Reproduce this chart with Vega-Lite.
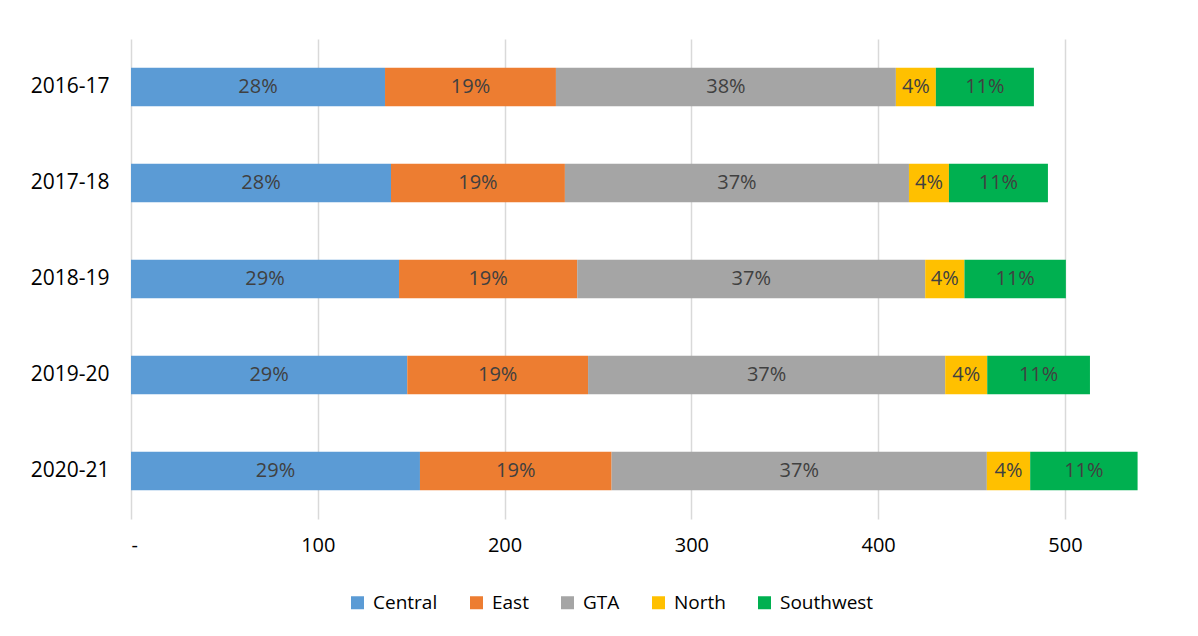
{
  "$schema": "https://vega.github.io/schema/vega-lite/v6.json",
  "width": 1046,
  "height": 480,
  "autosize": "none",
  "padding": {"left": 131, "top": 39, "right": 21, "bottom": 117},
  "background": "white",
  "config": {"view": {"stroke": null}, "font": "Open Sans"},
  "data": {
    "values": [
      {"year": "2016-17", "region": "Central", "value": 136.0, "pct": "28%"},
      {"year": "2016-17", "region": "East", "value": 91.5, "pct": "19%"},
      {"year": "2016-17", "region": "GTA", "value": 182.0, "pct": "38%"},
      {"year": "2016-17", "region": "North", "value": 21.4, "pct": "4%"},
      {"year": "2016-17", "region": "Southwest", "value": 52.5, "pct": "11%"},
      {"year": "2017-18", "region": "Central", "value": 139.2, "pct": "28%"},
      {"year": "2017-18", "region": "East", "value": 93.1, "pct": "19%"},
      {"year": "2017-18", "region": "GTA", "value": 184.2, "pct": "37%"},
      {"year": "2017-18", "region": "North", "value": 21.4, "pct": "4%"},
      {"year": "2017-18", "region": "Southwest", "value": 53.0, "pct": "11%"},
      {"year": "2018-19", "region": "Central", "value": 143.5, "pct": "29%"},
      {"year": "2018-19", "region": "East", "value": 95.4, "pct": "19%"},
      {"year": "2018-19", "region": "GTA", "value": 186.3, "pct": "37%"},
      {"year": "2018-19", "region": "North", "value": 21.0, "pct": "4%"},
      {"year": "2018-19", "region": "Southwest", "value": 54.3, "pct": "11%"},
      {"year": "2019-20", "region": "Central", "value": 147.9, "pct": "29%"},
      {"year": "2019-20", "region": "East", "value": 96.8, "pct": "19%"},
      {"year": "2019-20", "region": "GTA", "value": 191.2, "pct": "37%"},
      {"year": "2019-20", "region": "North", "value": 22.5, "pct": "4%"},
      {"year": "2019-20", "region": "Southwest", "value": 55.0, "pct": "11%"},
      {"year": "2020-21", "region": "Central", "value": 154.7, "pct": "29%"},
      {"year": "2020-21", "region": "East", "value": 102.6, "pct": "19%"},
      {"year": "2020-21", "region": "GTA", "value": 200.9, "pct": "37%"},
      {"year": "2020-21", "region": "North", "value": 23.2, "pct": "4%"},
      {"year": "2020-21", "region": "Southwest", "value": 57.5, "pct": "11%"}
    ]
  },
  "encoding": {
    "y": {
      "field": "year",
      "type": "nominal",
      "sort": null,
      "scale": {"paddingInner": 0.6, "paddingOuter": 0.3},
      "axis": {
        "title": null,
        "domain": false,
        "ticks": false,
        "grid": false,
        "labelFontSize": 21,
        "labelColor": "#000000",
        "labelPadding": 22
      }
    }
  },
  "layer": [
    {
      "mark": {"type": "bar"},
      "encoding": {
        "x": {
          "field": "value",
          "type": "quantitative",
          "stack": "zero",
          "scale": {"domain": [0, 560], "nice": false},
          "axis": {
            "title": null,
            "values": [0, 100, 200, 300, 400, 500],
            "grid": true,
            "gridColor": "#D9D9D9",
            "gridWidth": 1.5,
            "domain": false,
            "ticks": false,
            "labelFontSize": 20,
            "labelColor": "#000000",
            "labelPadding": 16,
            "labelExpr": "datum.value == 0 ? '-\u00a0\u00a0\u00a0' : datum.label"
          }
        },
        "color": {
          "field": "region",
          "type": "nominal",
          "scale": {
            "domain": ["Central", "East", "GTA", "North", "Southwest"],
            "range": ["#5B9BD5", "#ED7D31", "#A5A5A5", "#FFC000", "#00B050"]
          },
          "legend": {
            "title": null,
            "orient": "none",
            "legendX": 217,
            "legendY": 554,
            "direction": "horizontal",
            "symbolType": "square",
            "symbolSize": 169,
            "symbolStrokeWidth": 0,
            "labelFontSize": 19,
            "labelColor": "#000000",
            "labelOffset": 6,
            "columnPadding": 29
          }
        }
      }
    },
    {
      "transform": [
        {"stack": "value", "groupby": ["year"], "sort": [{"field": "region"}], "as": ["v0", "v1"]},
        {"calculate": "(datum.v0 + datum.v1) / 2", "as": "mid"}
      ],
      "mark": {"type": "text", "fontSize": 20, "color": "#404040", "baseline": "middle", "align": "center"},
      "encoding": {
        "x": {
          "field": "mid",
          "type": "quantitative",
          "axis": {
            "title": null,
            "values": [0, 100, 200, 300, 400, 500],
            "grid": true,
            "gridColor": "#D9D9D9",
            "gridWidth": 1.5,
            "domain": false,
            "ticks": false,
            "labelFontSize": 20,
            "labelColor": "#000000",
            "labelPadding": 16,
            "labelExpr": "datum.value == 0 ? '-\u00a0\u00a0\u00a0' : datum.label"
          }
        },
        "text": {"field": "pct", "type": "nominal"}
      }
    }
  ]
}
